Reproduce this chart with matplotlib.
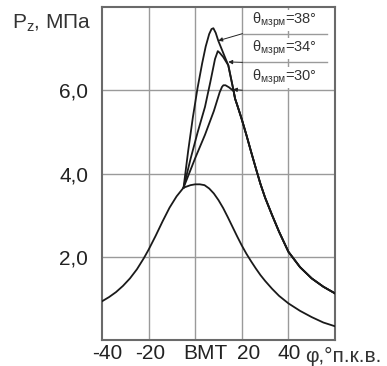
import matplotlib
matplotlib.use('Agg')
import matplotlib.pyplot as plt
import matplotlib.transforms as mtransforms

plt.rcParams['font.family'] = ['Liberation Sans', 'DejaVu Sans']
plt.rcParams['mathtext.fontset'] = 'custom'
plt.rcParams['mathtext.rm'] = 'Liberation Sans'
plt.rcParams['mathtext.it'] = 'Liberation Sans:italic'

# motored (no combustion) pressure curve
PHI_MOT = [-40, -37, -34, -31, -28, -25, -22, -20, -17, -14, -11, -8, -5, -2,
           0, 2, 4, 6, 8, 10, 12, 14, 16, 18, 20, 22, 24, 26, 28, 30, 33, 36,
           40, 45, 50, 55, 60]
P_MOT = [0.93, 1.03, 1.15, 1.3, 1.48, 1.7, 1.97, 2.17, 2.5, 2.85, 3.18, 3.45,
         3.66, 3.72, 3.74, 3.74, 3.72, 3.64, 3.52, 3.36, 3.17, 2.95, 2.72,
         2.49, 2.27, 2.07, 1.89, 1.72, 1.56, 1.42, 1.23, 1.06, 0.88, 0.7,
         0.55, 0.42, 0.33]

# combustion curves, rising part up to the merge point
PHI_38 = [-5, -3, -1, 1, 3, 4.5, 6, 7, 7.8, 8.8, 9.9, 12.8, 14.2, 16.5]
P_38 = [3.66, 4.55, 5.35, 6.05, 6.65, 7.05, 7.35, 7.47, 7.49, 7.38, 7.19, 6.79,
        6.6, 5.98]
PHI_34 = [-5, -2, 1, 4.2, 6.5, 8.5, 9.7, 10.5, 12, 14.2, 16.5]
P_34 = [3.66, 4.35, 4.98, 5.6, 6.2, 6.75, 6.94, 6.9, 6.8, 6.6, 5.98]
PHI_30 = [-5, 0, 4.2, 8, 10.5, 11.5, 12.1, 13, 14.5, 16.5]
P_30 = [3.66, 4.37, 4.93, 5.5, 5.95, 6.08, 6.12, 6.12, 6.07, 5.98]

# common expansion tail of the three combustion curves
PHI_TAIL = [17.1, 18, 20, 22, 24, 26, 28, 30, 33, 36, 40, 45, 50, 55, 60]
P_TAIL = [5.8, 5.65, 5.3, 4.92, 4.52, 4.13, 3.75, 3.42, 3.0, 2.6, 2.12, 1.75,
          1.48, 1.28, 1.12]

ANGLES = ['38', '34', '30']
LABEL_Y = [7.67, 7.0, 6.3]
UNDERLINE_Y = [7.36, 6.67, 6.0]
POINTER = [(9.9, 7.19), (14.2, 6.68), (16.2, 6.02)]

XTICKS = [-40, -20, 0, 20, 40]
XTICK_LABELS = ['-40', '-20', 'ВМТ', '20', '40']
YTICKS = [2, 4, 6]
YTICK_LABELS = ['2,0', '4,0', '6,0']


def main():
    fig = plt.figure(figsize=(3.87, 3.66), dpi=100)
    ax = fig.add_axes([102 / 387, 26 / 366, 233 / 387, 333 / 366])

    ax.set_xlim(-40, 60)
    ax.set_ylim(0, 8)
    ax.set_xticks(XTICKS)
    ax.set_xticklabels(XTICK_LABELS, fontsize=15)
    ax.set_yticks(YTICKS)
    ax.set_yticklabels(YTICK_LABELS, fontsize=15)
    ax.tick_params(axis='x', length=0, pad=3, colors='#222222')
    ax.tick_params(axis='y', length=0, pad=10, colors='#222222')

    for x in [-20, 0, 20, 40]:
        ax.axvline(x, color='#9a9a9a', lw=1.0, zorder=0)
    for y in YTICKS:
        ax.axhline(y, color='#9a9a9a', lw=1.0, zorder=0)
    for sp in ax.spines.values():
        sp.set_color('#6a6a6a')
        sp.set_linewidth(1.5)

    # shift "ВМТ" and "20" a little to the right, as in the original
    labels = ax.get_xticklabels()
    for lab, dx in zip(labels, [5, 2, 10, 7, 1]):
        off = mtransforms.ScaledTranslation(dx / 100, 0, fig.dpi_scale_trans)
        lab.set_transform(lab.get_transform() + off)

    line_kw = dict(color='#1a1a1a', lw=1.3, zorder=3)
    ax.plot(PHI_MOT, P_MOT, **line_kw)
    for phi, p in [(PHI_38, P_38), (PHI_34, P_34), (PHI_30, P_30)]:
        ax.plot(phi + PHI_TAIL, p + P_TAIL, **line_kw)

    for ang, ly, uy, (px, py) in zip(ANGLES, LABEL_Y, UNDERLINE_Y, POINTER):
        ax.text(24.3, ly, r'$\mathrm{θ_{мзрм}}$=' + ang + '°', fontsize=10.5,
                va='center', ha='left', color='#333333', zorder=4,
                bbox=dict(fc='white', ec='none', pad=0.5))
        if uy != 6.0:
            ax.plot([20, 56.6], [uy, uy], color='#9a9a9a', lw=1.0, zorder=1)
        ax.annotate('', xy=(px, py), xytext=(20.3, uy),
                    arrowprops=dict(arrowstyle='-|>', color='#222222', lw=0.7,
                                    mutation_scale=6, shrinkA=0, shrinkB=0),
                    zorder=4)

    fig.text(12 / 387, 1 - 29 / 366, r'P$_\mathrm{z}$, МПа', fontsize=15,
             ha='left', va='baseline', color='#333333')
    fig.text(305 / 387, 4 / 366, 'φ,°п.к.в.', fontsize=15, ha='left',
             va='baseline', color='#333333')

    fig.savefig('out.png', dpi=100)


if __name__ == '__main__':
    main()
